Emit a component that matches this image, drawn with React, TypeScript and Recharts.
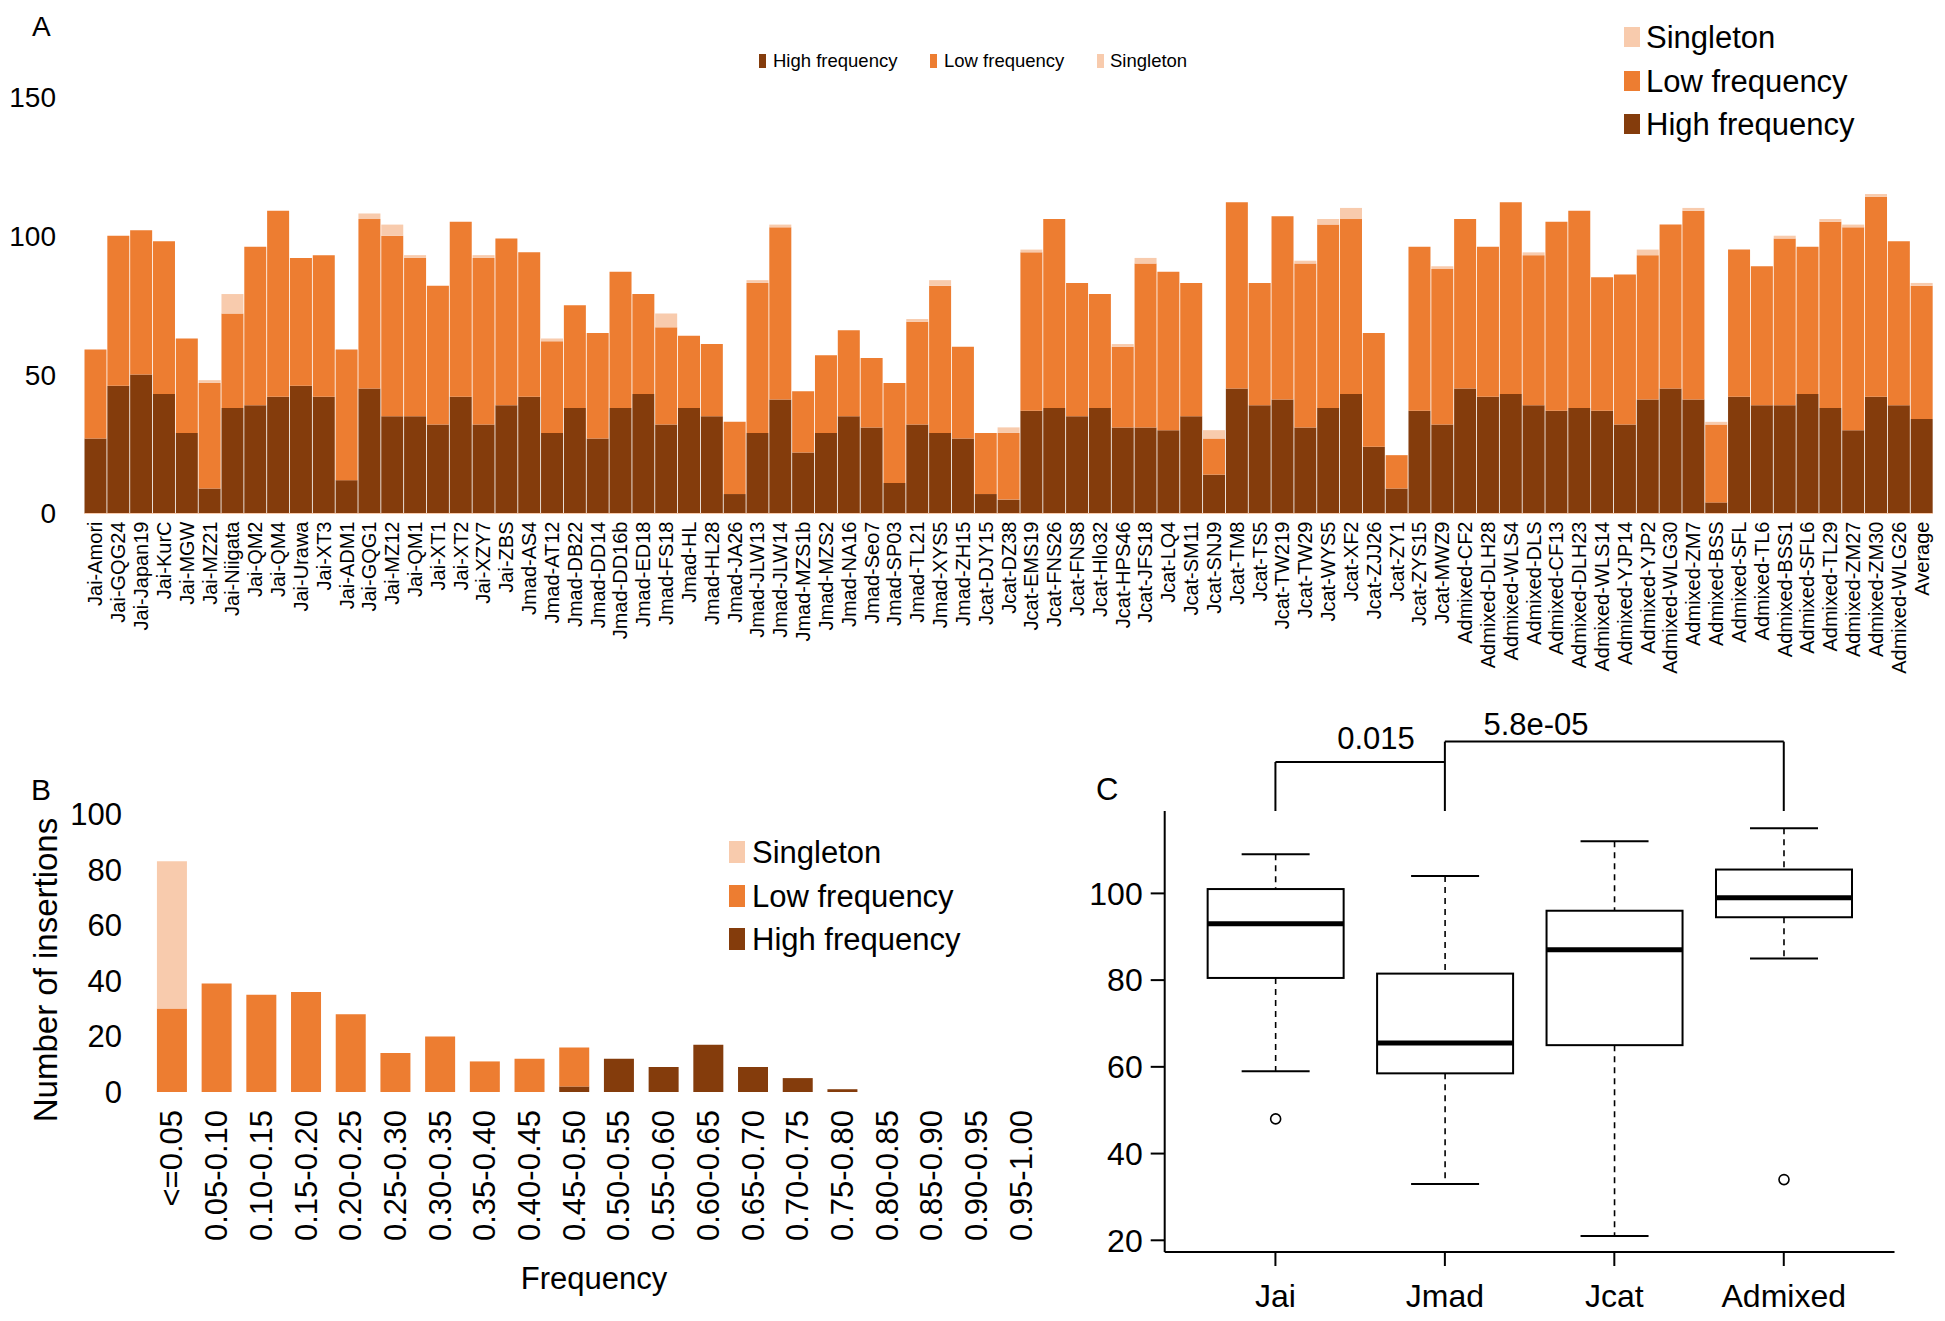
import React from 'react';
import { BarChart, Bar, XAxis, YAxis, ReferenceLine } from 'recharts';

const FONT = '"Liberation Sans", Arial, Helvetica, sans-serif';
const HIGH = '#843C0C';
const LOW = '#ED7D31';
const SINGLE = '#F8CBAD';

// ---- panel A: insertions per accession ----
const accessions = [
  'Jai-Amori', 'Jai-GQG24', 'Jai-Japan19', 'Jai-KurC', 'Jai-MGW', 'Jai-MZ21', 'Jai-Niigata', 'Jai-QM2', 'Jai-QM4',
  'Jai-Urawa', 'Jai-XT3', 'Jai-ADM1', 'Jai-GQG1', 'Jai-MZ12', 'Jai-QM1', 'Jai-XT1', 'Jai-XT2', 'Jai-XZY7', 'Jai-ZBS',
  'Jmad-AS4', 'Jmad-AT12', 'Jmad-DB22', 'Jmad-DD14', 'Jmad-DD16b', 'Jmad-ED18', 'Jmad-FS18', 'Jmad-HL', 'Jmad-HL28',
  'Jmad-JA26', 'Jmad-JLW13', 'Jmad-JLW14', 'Jmad-MZS1b', 'Jmad-MZS2', 'Jmad-NA16', 'Jmad-Seo7', 'Jmad-SP03',
  'Jmad-TL21', 'Jmad-XYS5', 'Jmad-ZH15', 'Jcat-DJY15', 'Jcat-DZ38', 'Jcat-EMS19', 'Jcat-FNS26', 'Jcat-FNS8',
  'Jcat-Hlo32', 'Jcat-HPS46', 'Jcat-JFS18', 'Jcat-LQ4', 'Jcat-SM11', 'Jcat-SNJ9', 'Jcat-TM8', 'Jcat-TS5',
  'Jcat-TW219', 'Jcat-TW29', 'Jcat-WYS5', 'Jcat-XF2', 'Jcat-ZJJ26', 'Jcat-ZY1', 'Jcat-ZYS15', 'Jcat-MWZ9',
  'Admixed-CF2', 'Admixed-DLH28', 'Admixed-WLS4', 'Admixed-DLS', 'Admixed-CF13', 'Admixed-DLH23', 'Admixed-WLS14',
  'Admixed-YJP14', 'Admixed-YJP2', 'Admixed-WLG30', 'Admixed-ZM7', 'Admixed-BSS', 'Admixed-SFL', 'Admixed-TL6',
  'Admixed-BSS1', 'Admixed-SFL6', 'Admixed-TL29', 'Admixed-ZM27', 'Admixed-ZM30', 'Admixed-WLG26', 'Average',
];
const highFreq = [
  27, 46, 50, 43, 29, 9, 38, 39, 42, 46, 42, 12, 45, 35, 35, 32, 42, 32, 39,
  42, 29, 38, 27, 38, 43, 32, 38, 35, 7, 29, 41, 22, 29, 35, 31, 11, 32, 29, 27,
  7, 5, 37, 38, 35, 38, 31, 31, 30, 35, 14, 45, 39, 41, 31, 38, 43, 24, 9, 37, 32,
  45, 42, 43, 39, 37, 38, 37, 32, 41, 45, 41, 4, 42, 39, 39, 43, 38, 30, 42, 39, 34,
];
const lowFreq = [
  32, 54, 52, 55, 34, 38, 34, 57, 67, 46, 51, 47, 61, 65, 57, 50, 63, 60, 60,
  52, 33, 37, 38, 49, 36, 35, 26, 26, 26, 54, 62, 22, 28, 31, 25, 36, 37, 53, 33,
  22, 24, 57, 68, 48, 41, 29, 59, 57, 48, 13, 67, 44, 66, 59, 66, 63, 41, 12, 59, 56,
  61, 54, 69, 54, 68, 71, 48, 54, 52, 59, 68, 28, 53, 50, 60, 53, 67, 73, 72, 59, 48,
];
const singletons = [
  0, 0, 0, 0, 0, 1, 7, 0, 0, 0, 0, 0, 2, 4, 1, 0, 0, 1, 0,
  0, 1, 0, 0, 0, 0, 5, 0, 0, 0, 1, 1, 0, 0, 0, 0, 0, 1, 2, 0,
  0, 2, 1, 0, 0, 0, 1, 2, 0, 0, 3, 0, 0, 0, 1, 2, 4, 0, 0, 0, 1,
  0, 0, 0, 1, 0, 0, 0, 0, 2, 0, 1, 1, 0, 0, 1, 0, 1, 1, 1, 0, 1,
];

// ---- panel B: frequency spectrum ----
const freqBins = [
  '<=0.05', '0.05-0.10', '0.10-0.15', '0.15-0.20', '0.20-0.25', '0.25-0.30', '0.30-0.35', '0.35-0.40', '0.40-0.45',
  '0.45-0.50', '0.50-0.55', '0.55-0.60', '0.60-0.65', '0.65-0.70', '0.70-0.75', '0.75-0.80', '0.80-0.85',
  '0.85-0.90', '0.90-0.95', '0.95-1.00',
];
const binHigh = [0, 0, 0, 0, 0, 0, 0, 0, 0, 2, 12, 9, 17, 9, 5, 1, 0, 0, 0, 0];
const binLow = [30, 39, 35, 36, 28, 14, 20, 11, 12, 14, 0, 0, 0, 0, 0, 0, 0, 0, 0, 0];
const binSingle = [53, 0, 0, 0, 0, 0, 0, 0, 0, 0, 0, 0, 0, 0, 0, 0, 0, 0, 0, 0];

// ---- panel C: box plot per group ----
const groups = ['Jai', 'Jmad', 'Jcat', 'Admixed'];
const whiskerLow = [59, 33, 21, 85];
const quart1 = [80.5, 58.5, 65, 94.5];
const medians = [93, 65.5, 87, 99];
const quart3 = [101, 81.5, 96, 105.5];
const whiskerHigh = [109, 104, 112, 115];
const outliers = [[48], [], [], [34]];
const C_MIN = 17.3;
const C_MAX = 119;
const pJaiJmad = { label: '0.015', level: 130.3 };
const pJmadAdmixed = { label: '5.8e-05', level: 135 };

const accessionRows = accessions.map((name, i) => ({
  name, high: highFreq[i], low: lowFreq[i], single: singletons[i],
}));
const binRows = freqBins.map((name, i) => ({
  name, high: binHigh[i], low: binLow[i], single: binSingle[i],
}));
const boxRows = groups.map((group, i) => ({
  group, lo: whiskerLow[i], q1: quart1[i], med: medians[i], q3: quart3[i], hi: whiskerHigh[i], out: outliers[i],
}));

const RotatedTick = (props: any) => {
  const { x, y, payload, fontSize } = props;
  return (
    <text x={x} y={y} transform={`rotate(-90 ${x} ${y})`} textAnchor="end" dominantBaseline="central"
      fontSize={fontSize} fontFamily={FONT} fill="#000">
      {payload.value}
    </text>
  );
};

const BoxShape = (props: any) => {
  const { x, y, width, height, payload } = props;
  const top = Math.min(y, y + height);
  const h = Math.abs(height);
  const ppu = h / (payload.q3 - payload.q1);
  const toY = (v: number) => top + (payload.q3 - v) * ppu;
  const cx = x + width / 2;
  const cap = width / 4;
  return (
    <g>
      <line x1={cx} x2={cx} y1={toY(payload.hi)} y2={top} stroke="#000" strokeWidth={1.6} strokeDasharray="6 5" />
      <line x1={cx} x2={cx} y1={top + h} y2={toY(payload.lo)} stroke="#000" strokeWidth={1.6} strokeDasharray="6 5" />
      <line x1={cx - cap} x2={cx + cap} y1={toY(payload.hi)} y2={toY(payload.hi)} stroke="#000" strokeWidth={2} />
      <line x1={cx - cap} x2={cx + cap} y1={toY(payload.lo)} y2={toY(payload.lo)} stroke="#000" strokeWidth={2} />
      <rect x={x} y={top} width={width} height={h} fill="#fff" stroke="#000" strokeWidth={2} />
      <line x1={x} x2={x + width} y1={toY(payload.med)} y2={toY(payload.med)} stroke="#000" strokeWidth={5} />
      {payload.out.map((v: number, i: number) => (
        <circle key={i} cx={cx} cy={toY(v)} r={5} fill="none" stroke="#000" strokeWidth={1.6} />
      ))}
    </g>
  );
};

const txt = (s: string, left: number, top: number, size: number, extra: React.CSSProperties = {}) => (
  <div style={{
    position: 'absolute', left, top, fontSize: size, fontFamily: FONT, color: '#000', lineHeight: 1,
    whiteSpace: 'nowrap', transform: 'translate(0, -50%)', ...extra,
  }}>{s}</div>
);

const swatch = (color: string, left: number, top: number, w: number, h: number) => (
  <div style={{ position: 'absolute', left, top: top - h / 2, width: w, height: h, background: color }} />
);

const PanelA = () => (
  <div style={{ position: 'absolute', left: 0, top: 0, width: 1945, height: 690 }}>
    <BarChart width={1945} height={690} data={accessionRows} barCategoryGap={0.5}
      margin={{ top: 96.8, right: 12, bottom: 6.5, left: 24 }}>
      <XAxis dataKey="name" interval={0} tickLine={false} axisLine={{ stroke: SINGLE }} tickSize={0}
        tickMargin={8} height={170} tick={<RotatedTick fontSize={20} />} />
      <YAxis width={60} domain={[0, 150]} ticks={[0, 50, 100, 150]} axisLine={false} tickLine={false}
        tickSize={0} tickMargin={28} tick={{ fontSize: 28, fill: '#000', fontFamily: FONT }} />
      <Bar dataKey="high" stackId="a" fill={HIGH} isAnimationActive={false} />
      <Bar dataKey="low" stackId="a" fill={LOW} isAnimationActive={false} />
      <Bar dataKey="single" stackId="a" fill={SINGLE} isAnimationActive={false} />
    </BarChart>
  </div>
);

const PanelB = () => (
  <div style={{ position: 'absolute', left: 0, top: 700, width: 1060, height: 621 }}>
    <BarChart width={1060} height={621} data={binRows} barCategoryGap="16.4%"
      margin={{ top: 114, right: 16.4, bottom: 29, left: 29.6 }}>
      <XAxis dataKey="name" interval={0} tickLine={false} axisLine={false} tickSize={0}
        tickMargin={18} height={200} tick={<RotatedTick fontSize={31} />} />
      <YAxis width={120} domain={[0, 100]} ticks={[0, 20, 40, 60, 80, 100]} axisLine={false} tickLine={false}
        tickSize={0} tickMargin={27.6} tick={{ fontSize: 31, fill: '#000', fontFamily: FONT }} />
      <Bar dataKey="high" stackId="b" fill={HIGH} isAnimationActive={false} />
      <Bar dataKey="low" stackId="b" fill={LOW} isAnimationActive={false} />
      <Bar dataKey="single" stackId="b" fill={SINGLE} isAnimationActive={false} />
    </BarChart>
  </div>
);

const PanelC = () => (
  <div style={{ position: 'absolute', left: 1050, top: 700, width: 895, height: 621 }}>
    <BarChart width={895} height={621} data={boxRows} barCategoryGap="10%"
      margin={{ top: 111, right: 50.5, bottom: 0, left: 0 }}>
      <XAxis dataKey="group" interval={0} padding={{ left: 26, right: 26 }} height={69}
        axisLine={{ stroke: '#000', strokeWidth: 2 }} tickLine={{ stroke: '#000', strokeWidth: 2 }}
        tickSize={14} tickMargin={18} tick={{ fontSize: 32, fill: '#000', fontFamily: FONT }} />
      <XAxis xAxisId="top" orientation="top" dataKey="group" height={0} tick={false} tickLine={false}
        axisLine={{ stroke: '#000', strokeWidth: 2 }} />
      <YAxis width={114.7} domain={[C_MIN, C_MAX]} allowDataOverflow ticks={[20, 40, 60, 80, 100]}
        axisLine={{ stroke: '#000', strokeWidth: 2 }} tickLine={{ stroke: '#000', strokeWidth: 2 }}
        tickSize={14} tickMargin={8} tick={{ fontSize: 32, fill: '#000', fontFamily: FONT }} />
      <YAxis yAxisId="right" orientation="right" width={0} domain={[C_MIN, C_MAX]} tick={false} tickLine={false}
        axisLine={{ stroke: '#000', strokeWidth: 2 }} />
      <Bar dataKey={(d: any) => [d.q1, d.q3]} shape={BoxShape} isAnimationActive={false} />
      <ReferenceLine ifOverflow="visible" stroke="#000" strokeWidth={2}
        segment={[{ x: 'Jai', y: C_MAX }, { x: 'Jai', y: pJaiJmad.level }]} />
      <ReferenceLine ifOverflow="visible" stroke="#000" strokeWidth={2}
        segment={[{ x: 'Jai', y: pJaiJmad.level }, { x: 'Jmad', y: pJaiJmad.level }]} />
      <ReferenceLine ifOverflow="visible" stroke="#000" strokeWidth={2}
        segment={[{ x: 'Jmad', y: C_MAX }, { x: 'Jmad', y: pJmadAdmixed.level }]} />
      <ReferenceLine ifOverflow="visible" stroke="#000" strokeWidth={2}
        segment={[{ x: 'Jmad', y: pJmadAdmixed.level }, { x: 'Admixed', y: pJmadAdmixed.level }]} />
      <ReferenceLine ifOverflow="visible" stroke="#000" strokeWidth={2}
        segment={[{ x: 'Admixed', y: C_MAX }, { x: 'Admixed', y: pJmadAdmixed.level }]} />
    </BarChart>
  </div>
);

export default function App() {
  return (
    <div style={{ position: 'absolute', left: 0, top: 0, width: 1945, height: 1321, background: '#fff', overflow: 'hidden' }}>
      <PanelA />
      <PanelB />
      <PanelC />

      {/* panel letters */}
      {txt('A', 32, 27, 28)}
      {txt('B', 31, 790, 30)}
      {txt('C', 1096, 789, 31)}

      {/* A: small legend */}
      {swatch(HIGH, 759, 61, 7, 14)}
      {txt('High frequency', 773, 61, 18.5)}
      {swatch(LOW, 930, 61, 7, 14)}
      {txt('Low frequency', 944, 61, 18.5)}
      {swatch(SINGLE, 1097, 61, 7, 14)}
      {txt('Singleton', 1110, 61, 18.5)}

      {/* A: large legend */}
      {swatch(SINGLE, 1624, 37, 16, 20)}
      {txt('Singleton', 1646, 37, 31)}
      {swatch(LOW, 1624, 81, 16, 20)}
      {txt('Low frequency', 1646, 81, 31)}
      {swatch(HIGH, 1624, 124, 16, 20)}
      {txt('High frequency', 1646, 124, 31)}

      {/* B: legend and axis titles */}
      {swatch(SINGLE, 729, 852, 16, 22)}
      {txt('Singleton', 752, 852, 31)}
      {swatch(LOW, 729, 896, 16, 22)}
      {txt('Low frequency', 752, 896, 31)}
      {swatch(HIGH, 729, 939, 16, 22)}
      {txt('High frequency', 752, 939, 31)}
      {txt('Frequency', 594, 1278, 31, { transform: 'translate(-50%, -50%)' })}
      {txt('Number of insertions', 45, 970, 33, { transform: 'translate(-50%, -50%) rotate(-90deg)' })}

      {/* C: p-values */}
      {txt(pJaiJmad.label, 1376, 738, 31, { transform: 'translate(-50%, -50%)' })}
      {txt(pJmadAdmixed.label, 1536, 724, 31, { transform: 'translate(-50%, -50%)' })}
    </div>
  );
}
